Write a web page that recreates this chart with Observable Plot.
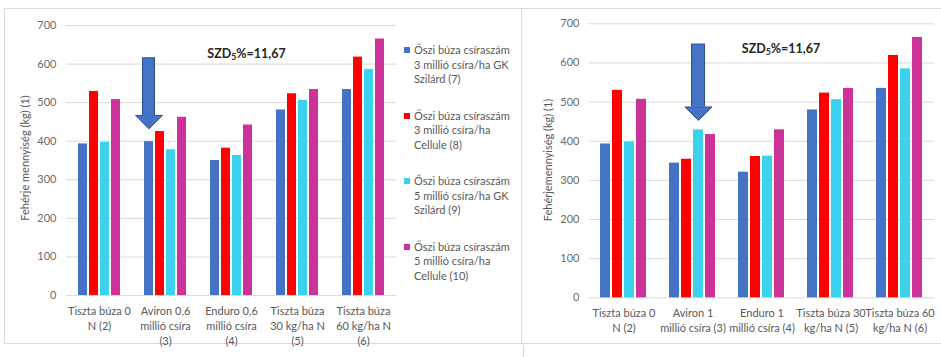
<!DOCTYPE html>
<html><head><meta charset="utf-8">
<script src="https://cdn.jsdelivr.net/npm/d3@7"></script>
<script src="https://cdn.jsdelivr.net/npm/@observablehq/plot@0.6"></script>
<style>
body{margin:0;background:#fff;font-family:Lato, "Liberation Sans", sans-serif;}
#wrap{position:relative;width:941px;height:357px;overflow:hidden;background:#fff;}
.abs{position:absolute;}
.ytitle{position:absolute;white-space:nowrap;font-size:11px;color:#595959;transform:translate(-50%,-50%) rotate(-90deg);}
.szd{position:absolute;white-space:nowrap;font-size:12.5px;font-weight:bold;color:#262626;transform:translate(-50%,-50%);}
.legend{position:absolute;left:404px;top:43px;font-size:11px;color:#595959;line-height:14.5px;}
.legend .item{position:relative;padding-left:10px;height:65.5px;}
.legend .sw{position:absolute;left:0;top:4px;width:6px;height:6px;}
.line{position:absolute;background:#d9d9d9;}
</style></head><body><div id="wrap"></div>
<script>
// ---- data ----
const seriesNames = [
  "Őszi búza csíraszám\n3 millió csíra/ha GK\nSzilárd (7)",
  "Őszi búza csíraszám\n3 millió csíra/ha\nCellule (8)",
  "Őszi búza csíraszám\n5 millió csíra/ha GK\nSzilárd (9)",
  "Őszi búza csíraszám\n5 millió csíra/ha\nCellule (10)"
];
const seriesColors = ["#4472C4", "#FF0000", "#3CD2EE", "#CC3399"];
const groupKeys = ["(2)", "(3)", "(4)", "(5)", "(6)"];
const leftTickLabels = ["Tiszta búza 0\nN (2)", "Aviron 0,6\nmillió csíra\n(3)", "Enduro 0,6\nmillió csíra\n(4)", "Tiszta búza\n30 kg/ha N\n(5)", "Tiszta búza\n60 kg/ha N\n(6)"];
const rightTickLabels = ["Tiszta búza 0\nN (2)", "Aviron 1\nmillió csíra (3)", "Enduro 1\nmillió csíra (4)", "Tiszta búza 30\nkg/ha N (5)", "Tiszta búza 60\nkg/ha N (6)"];
const yTicks = [0, 100, 200, 300, 400, 500, 600, 700];

const left7  = [393, 399, 350, 481, 534];
const left8  = [529, 425, 382, 523, 618];
const left9  = [397, 378, 363, 506, 586];
const left10 = [508, 462, 442, 534, 665];

const right7  = [393, 344, 321, 480, 535];
const right8  = [530, 354, 361, 523, 619];
const right9  = [398, 429, 362, 506, 585];
const right10 = [507, 417, 429, 535, 665];

const leftYTitle = "Fehérje mennyiség (kg) (1)";
const rightYTitle = "Fehérjemennyiség (kg) (1)";
const szdText = "SZD<sub>5</sub>%=11,67";

// arrow annotations (data units)
const leftArrow  = {group: "(3)", series: seriesNames[0], top: 615, neck: 467, tip: 432};
const rightArrow = {group: "(3)", series: seriesNames[2], top: 647, neck: 489, tip: 453};

// ---- build ----
function toRows(cols) {
  return groupKeys.flatMap((g, i) => seriesNames.map((s, j) => ({group: g, series: s, value: cols[j][i]})));
}
const arrowHead = {
  draw(ctx) {
    ctx.moveTo(-13.5, -13.5);
    ctx.lineTo(13.5, -13.5);
    ctx.lineTo(0, 0);
    ctx.closePath();
  }
};

function chart({width, height, mt, mr, mb, ml, rows, tickLabels, arrow}) {
  const labelOf = new Map(groupKeys.map((g, i) => [g, tickLabels[i]]));
  return Plot.plot({
    width, height, marginTop: mt, marginRight: mr, marginBottom: mb, marginLeft: ml,
    style: {fontFamily: "Lato, 'Liberation Sans', sans-serif", fontSize: "11px", color: "#6b6b6b", background: "transparent", overflow: "visible"},
    fx: {domain: groupKeys, paddingInner: 0, paddingOuter: 0},
    x: {domain: seriesNames, paddingInner: 0.15, paddingOuter: 0.9, axis: null},
    y: {domain: [0, 700], axis: null},
    color: {domain: seriesNames, range: seriesColors},
    marks: [
      Plot.gridY(yTicks, {stroke: "#d9d9d9", strokeOpacity: 1}),
      Plot.axisY(yTicks, {tickSize: 0, tickPadding: 10, label: null, fill: "#6b6b6b"}),
      Plot.axisFx({anchor: "bottom", tickSize: 0, tickPadding: 9, label: null, fill: "#595959", lineHeight: 1.35, tickFormat: g => labelOf.get(g)}),
      Plot.barY(rows, {fx: "group", x: "series", y: "value", fill: "series"}),
      Plot.barY([arrow], {fx: "group", x: "series", y1: "neck", y2: "top", fill: "#4472C4", stroke: "#2F528F", strokeWidth: 1, insetLeft: -1.5, insetRight: -1.5}),
      Plot.dot([arrow], {fx: "group", x: "series", y: "tip", symbol: arrowHead, fill: "#4472C4", stroke: "#2F528F", strokeWidth: 1}),
      Plot.barY([arrow], {fx: "group", x: "series", y1: "neck", y2: "top", fill: "#4472C4", insetLeft: -1, insetRight: -1, insetTop: 1, insetBottom: -1.5})
    ]
  });
}

const wrap = document.getElementById("wrap");
function addLine(l, t, w, h) {
  const d = document.createElement("div");
  d.className = "line";
  Object.assign(d.style, {left: l + "px", top: t + "px", width: w + "px", height: h + "px"});
  wrap.appendChild(d);
}
// panel borders
addLine(4, 8, 937, 1);
addLine(4, 8, 1, 335);
addLine(4, 343, 937, 1);
addLine(521, 8, 1, 335);
addLine(523, 345, 1, 12);

const leftChart = chart({width: 410, height: 357, mt: 25, mr: 13, mb: 62, ml: 65, rows: toRows([left7, left8, left9, left10]), tickLabels: leftTickLabels, arrow: leftArrow});
leftChart.style.position = "absolute"; leftChart.style.left = "0px"; leftChart.style.top = "0px";
wrap.appendChild(leftChart);

const rightChart = chart({width: 420, height: 357, mt: 23.3, mr: 6, mb: 59.7, ml: 67, rows: toRows([right7, right8, right9, right10]), tickLabels: rightTickLabels, arrow: rightArrow});
rightChart.style.position = "absolute"; rightChart.style.left = "521px"; rightChart.style.top = "0px";
wrap.appendChild(rightChart);

function addText(cls, html, x, y) {
  const d = document.createElement("div");
  d.className = cls; d.innerHTML = html;
  d.style.left = x + "px"; d.style.top = y + "px";
  wrap.appendChild(d);
}
addText("ytitle", leftYTitle, 24, 158);
addText("ytitle", rightYTitle, 547, 160);
addText("szd", szdText, 246.5, 52.7);
addText("szd", szdText, 781, 48);

// legend
const lg = document.createElement("div");
lg.className = "legend";
seriesNames.forEach((s, i) => {
  const it = document.createElement("div");
  it.className = "item";
  it.innerHTML = `<span class="sw" style="background:${seriesColors[i]}"></span>` + s.split("\n").join("<br>");
  lg.appendChild(it);
});
wrap.appendChild(lg);
</script>
<style>sub{font-size:70%;vertical-align:-2px;line-height:0;}</style>
</body></html>
